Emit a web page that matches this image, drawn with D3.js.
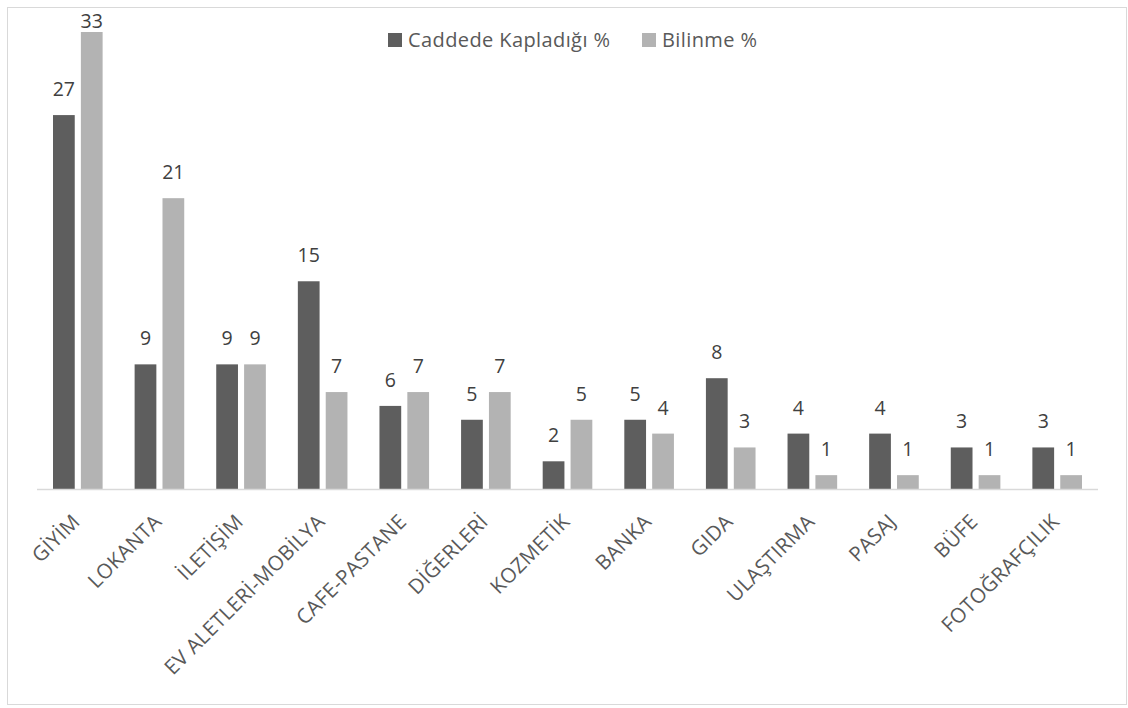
<!DOCTYPE html>
<html><head><meta charset="utf-8">
<script src="https://cdn.jsdelivr.net/npm/d3@7"></script>
<style>body{margin:0;background:#fff}svg{display:block}</style>
</head><body>
<script>
const categories = ["GİYİM","LOKANTA","İLETİŞİM","EV ALETLERİ-MOBİLYA","CAFE-PASTANE","DİĞERLERİ","KOZMETİK","BANKA","GIDA","ULAŞTIRMA","PASAJ","BÜFE","FOTOĞRAFÇILIK"];
const seriesNames = ["Caddede Kapladığı %","Bilinme %"];
const caddede = [27,9,9,15,6,5,2,5,8,4,4,3,3];
const bilinme = [33,21,9,7,7,7,5,4,3,1,1,1,1];
const colors = ["#5e5e5e","#b3b3b3"];

const W=1128,H=708;
const svg=d3.select("body").append("svg").attr("width",W).attr("height",H);
svg.append("rect").attr("x",7.5).attr("y",7.5).attr("width",1119).attr("height",697)
  .attr("fill","#fff").attr("stroke","#d9d9d9").attr("stroke-width",1);

const font="'Open Sans', sans-serif";
const x=d3.scaleBand().domain(categories).range([37,1098]).paddingInner(0).paddingOuter(0);
const x1=d3.scaleBand().domain([0,1]).range([16,x.bandwidth()-16]).paddingInner(0.22);
const y=d3.scaleLinear().domain([0,33]).range([489,32]);
const plotTop=12;

const series=[caddede,bilinme];
series.forEach((vals,si)=>{
  const g=svg.append("g");
  g.selectAll("rect").data(vals).join("rect")
    .attr("x",(d,i)=>x(categories[i])+x1(si))
    .attr("width",x1.bandwidth())
    .attr("y",d=>y(d)).attr("height",d=>y(0)-y(d))
    .attr("fill",colors[si]);
  g.selectAll("text").data(vals).join("text")
    .attr("x",(d,i)=>x(categories[i])+x1(si)+x1.bandwidth()/2)
    .attr("y",d=>Math.max(y(d)-19, plotTop+16))
    .attr("text-anchor","middle")
    .attr("font-family",font).attr("font-size",19.5).attr("fill","#404040")
    .text(d=>d);
});

svg.append("line").attr("x1",37).attr("x2",1098).attr("y1",489.5).attr("y2",489.5)
  .attr("stroke","#d9d9d9").attr("stroke-width",1.5);

const xl=svg.append("g");
categories.forEach(c=>{
  const cx=x(c)+x.bandwidth()/2;
  xl.append("text").attr("transform",`translate(${cx+3.5},${523}) rotate(-45)`)
    .attr("text-anchor","end")
    .attr("font-family",font).attr("font-size",20.5).attr("letter-spacing",0.3).attr("fill","#595959")
    .text(c);
});

// legend
const leg=svg.append("g");
const lx=[388,642];
seriesNames.forEach((n,i)=>{
  leg.append("rect").attr("x",lx[i]).attr("y",33).attr("width",14).attr("height",14).attr("fill",colors[i]);
  leg.append("text").attr("x",lx[i]+20).attr("y",47).attr("font-family",font).attr("font-size",20)
    .attr("letter-spacing",0.4).attr("fill","#595959").text(n);
});
</script>
</body></html>
